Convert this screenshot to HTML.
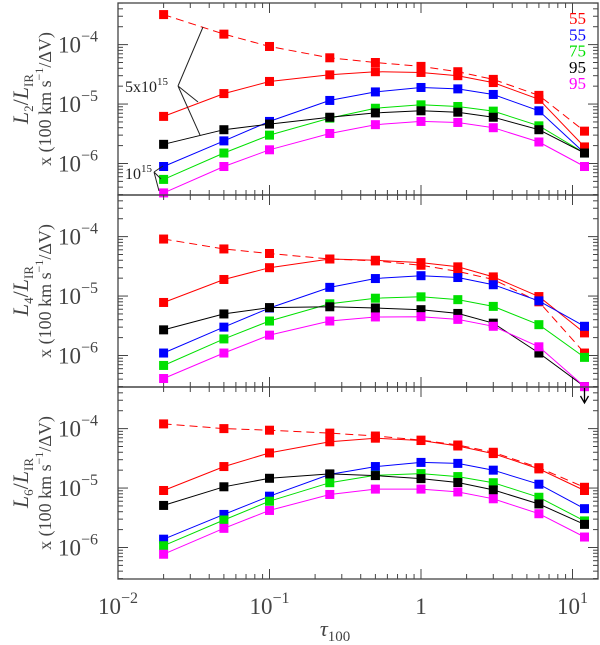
<!DOCTYPE html>
<html><head><meta charset="utf-8">
<style>
html,body{margin:0;padding:0;background:#fff;}
svg{display:block;}
text{font-family:"Liberation Serif",serif;}
</style></head>
<body>
<svg id="chart" width="600" height="645" viewBox="0 0 600 645" xmlns="http://www.w3.org/2000/svg"></svg>
<script>
const taus = [0.02,0.05,0.1,0.25,0.5,1,1.75,3,6,12];
const seriesColors = ['red','red','blue','green','black','magenta'];
const seriesNames = ['dashed-red','solid-red-55','blue-55','green-75','black-95','magenta-95'];
const legendLabels = ['55','55','75','95','95'];
const legendColors = ['#ff0000','#0000ff','#00e000','#000000','#ff00ff'];
const p1Dashed = [3.2e-4,1.5e-4,9.3e-5,6e-5,5e-5,4.3e-5,3.5e-5,2.6e-5,1.4e-5,3.5e-6];
const p1Red = [6.2e-6,1.5e-5,2.4e-5,3.1e-5,3.5e-5,3.4e-5,3.0e-5,2.3e-5,1.2e-5,1.9e-6];
const p1Blue = [8.9e-7,2.4e-6,5.1e-6,1.15e-5,1.6e-5,1.9e-5,1.8e-5,1.45e-5,7.7e-6,1.5e-6];
const p1Green = [5.4e-7,1.5e-6,3.0e-6,5.8e-6,8.5e-6,9.7e-6,9.1e-6,7.6e-6,4.3e-6,1.5e-6];
const p1Black = [2.1e-6,3.7e-6,4.6e-6,6e-6,7.1e-6,7.7e-6,7.3e-6,6e-6,3.7e-6,1.5e-6];
const p1Magenta = [3.2e-7,8.9e-7,1.7e-6,3.2e-6,4.5e-6,5.1e-6,4.9e-6,4e-6,2.3e-6,8.9e-7];
const p2Dashed = [9.1e-5,6.2e-5,5.2e-5,4.2e-5,3.9e-5,3.3e-5,2.6e-5,1.9e-5,8e-6,1.1e-6];
const p2Red = [7.8e-6,1.9e-5,3.0e-5,4.2e-5,4.0e-5,3.65e-5,3.1e-5,2.1e-5,9.8e-6,2.4e-6];
const p2Blue = [1.1e-6,3.0e-6,6.3e-6,1.4e-5,1.97e-5,2.2e-5,2.05e-5,1.55e-5,8.3e-6,3.1e-6];
const p2Green = [6.8e-7,1.9e-6,3.8e-6,7.4e-6,9.2e-6,9.7e-6,8.7e-6,6.7e-6,3.3e-6,9.3e-7];
const p2Black = [2.7e-6,5.0e-6,6.4e-6,6.6e-6,6.3e-6,5.9e-6,5.1e-6,3.5e-6,1.1e-6,3.0e-7];
const p2Magenta = [4.1e-7,1.1e-6,2.2e-6,3.8e-6,4.45e-6,4.5e-6,4.05e-6,3.1e-6,1.4e-6,3.0e-7];
const p3Dashed = [1.2e-4,1.0e-4,9.4e-5,8.4e-5,7.5e-5,6.4e-5,5.3e-5,4.0e-5,2.2e-5,1.03e-5];
const p3Red = [9.1e-6,2.3e-5,3.9e-5,6.0e-5,6.9e-5,6.3e-5,5.1e-5,3.8e-5,2.1e-5,9.1e-6];
const p3Blue = [1.38e-6,3.6e-6,7.3e-6,1.7e-5,2.3e-5,2.7e-5,2.6e-5,2.0e-5,1.16e-5,4.5e-6];
const p3Green = [1.07e-6,2.9e-6,6.0e-6,1.23e-5,1.64e-5,1.75e-5,1.56e-5,1.23e-5,7.0e-6,2.8e-6];
const p3Black = [5.1e-6,1.05e-5,1.46e-5,1.73e-5,1.62e-5,1.44e-5,1.24e-5,9.3e-6,5.4e-6,2.45e-6];
const p3Magenta = [7.7e-7,2.1e-6,4.2e-6,7.8e-6,9.6e-6,9.6e-6,8.6e-6,6.6e-6,3.7e-6,1.5e-6];
const panelSubs = ['2','4','6'];
const xTickExps = [-2,-1,0,1];

const panels = [
  [p1Dashed,p1Red,p1Blue,p1Green,p1Black,p1Magenta],
  [p2Dashed,p2Red,p2Blue,p2Green,p2Black,p2Magenta],
  [p3Dashed,p3Red,p3Blue,p3Green,p3Black,p3Magenta]
];
const NS='http://www.w3.org/2000/svg';
const svg=document.getElementById('chart');
const X0=118, X1=598, DEC=151.5;
const PT=[3,195,387], PH=192, YMIN=-6.53, YMAX=-3.30;
const colMap={red:'#ff0000',blue:'#0000ff',green:'#00e000',black:'#000000',magenta:'#ff00ff'};
function xs(t){return X0+(Math.log10(t)+2)*DEC;}
function ys(p,v){return PT[p]+(YMAX-Math.log10(v))/(YMAX-YMIN)*PH;}
function mk(tag,attrs,parent){const e=document.createElementNS(NS,tag);for(const k in attrs)e.setAttribute(k,attrs[k]);(parent||svg).appendChild(e);return e;}

for(let p=0;p<3;p++){
  const g=mk('g',{});
  
  
  const top=PT[p], bot=top+PH;
  const fr=mk('rect',{x:X0,y:top,width:X1-X0,height:PH,fill:'none',stroke:'#444','stroke-width':1.3},g);
  
  
  for(let d=-2;d<=1;d++){
    for(let m=1;m<10;m++){
      const t=m*Math.pow(10,d); const x=xs(t); if(x>X1)continue;
      const L=m===1?10:5;
      mk('line',{x1:x,y1:bot,x2:x,y2:bot-L,stroke:'#444','stroke-width':1},g);
      mk('line',{x1:x,y1:top,x2:x,y2:top+L,stroke:'#444','stroke-width':1},g);
    }
  }
  for(let d=-7;d<=-3;d++){
    for(let m=1;m<10;m++){
      const v=m*Math.pow(10,d); const lv=Math.log10(v);
      if(lv<YMIN||lv>YMAX)continue;
      const y=ys(p,v); const L=m===1?10:5;
      mk('line',{x1:X0,y1:y,x2:X0+L,y2:y,stroke:'#444','stroke-width':1},g);
      mk('line',{x1:X1,y1:y,x2:X1-L,y2:y,stroke:'#444','stroke-width':1},g);
    }
  }
  [-4,-5,-6].forEach(e=>{
    const y=ys(p,Math.pow(10,e));
    const t=mk('text',{x:58,y:y+8,'font-size':23,fill:'#444'},g);
    
    
    t.textContent='10';
    const s=mk('tspan',{dy:-11,'font-size':16},t); s.textContent=String.fromCharCode(8722)+Math.abs(e);
  });
  const cy=top+PH/2;
  const t1=mk('text',{x:0,y:0,'font-size':22,fill:'#444','text-anchor':'middle',transform:`translate(28,${cy}) rotate(-90)`},g);
  
  
  t1.innerHTML=`<tspan font-style="italic">L</tspan><tspan font-size="13" dy="5">${panelSubs[p]}</tspan><tspan dy="-5">/</tspan><tspan font-style="italic">L</tspan><tspan font-size="13" dy="5">IR</tspan>`;
  const t2=mk('text',{x:0,y:0,'font-size':18,fill:'#444','text-anchor':'middle',transform:`translate(51,${cy}) rotate(-90)`},g);
  
  
  t2.innerHTML=`x (100 km s<tspan font-size="12" dy="-8">−1</tspan><tspan dy="8">/ΔV)</tspan>`;
  panels[p].forEach((vals,si)=>{
    const col=colMap[seriesColors[si]];
    const sg=mk('g',{},g);
    
    
    const pts=vals.map((v,i)=>xs(taus[i]).toFixed(1)+','+Math.min(ys(p,v),bot).toFixed(1)).join(' ');
    const pl=mk('polyline',{points:pts,fill:'none',stroke:col,'stroke-width':1,'stroke-dasharray':si===0?'8,5':'none'},sg);
    
    
    vals.forEach((v,i)=>{
      const x=xs(taus[i]), y=Math.min(ys(p,v),bot);
      const r=mk('rect',{x:x-4.5,y:y-4.5,width:9,height:9,fill:col},sg);
      
      
    });
  });
}
const ax=xs(taus[9]);
const ar=mk('path',{d:`M${ax},388 L${ax},402 M${ax-4},396 L${ax},403 L${ax+4},396`,stroke:'#000','stroke-width':1.3,fill:'none'});


xTickExps.forEach(e=>{
  const x=xs(Math.pow(10,e));
  const t=mk('text',{x:x,y:614,'font-size':23,fill:'#444','text-anchor':'middle'});
  
  
  if(e===0){t.textContent='1';}
  else{t.innerHTML=`10<tspan dy="-11" font-size="16">${e<0?'−':''}${Math.abs(e)}</tspan>`;}
});
const xt=mk('text',{x:335,y:636,'font-size':22,fill:'#444','text-anchor':'middle'});


xt.innerHTML=`<tspan font-style="italic">τ</tspan><tspan font-size="15" dy="5">100</tspan>`;
legendLabels.forEach((l,i)=>{
  const t=mk('text',{x:586,y:24+i*16.3,'font-size':17,fill:legendColors[i],'text-anchor':'end','font-family':'Liberation Sans, sans-serif'});
  
  
  t.textContent=l;
});
const a1=mk('text',{x:125,y:92,'font-size':16,fill:'#222'});


a1.innerHTML='5x10<tspan dy="-7" font-size="11">15</tspan>';
const l1=mk('path',{d:'M178,86 L203,27 M178,86 L198,102 M178,86 L200,135',stroke:'#222','stroke-width':1,fill:'none'});


const a2=mk('text',{x:125,y:179,'font-size':16,fill:'#222'});


a2.innerHTML='10<tspan dy="-7" font-size="11">15</tspan>';
const l2=mk('path',{d:'M154,172 L163,166 M154,172 L161,179 M154,172 L159,191',stroke:'#222','stroke-width':1,fill:'none'});


</script>
</body></html>
